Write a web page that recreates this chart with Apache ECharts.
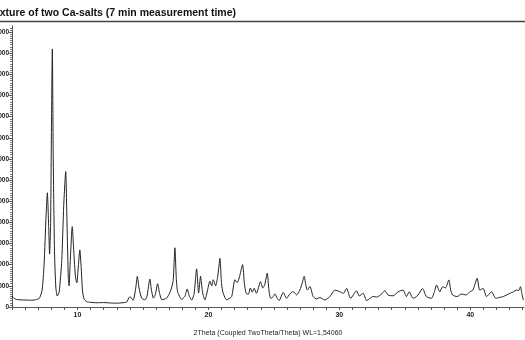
<!DOCTYPE html>
<html>
<head>
<meta charset="utf-8">
<script src="https://cdn.jsdelivr.net/npm/echarts@6/dist/echarts.min.js"></script>
<style>html,body{margin:0;padding:0;background:#fff}#c{width:525px;height:340px}</style>
</head>
<body>
<div id="c"></div>
<script>
const chartTitle = "Mixture of two Ca-salts (7 min measurement time)";
const xAxisTitle = "2Theta (Coupled TwoTheta/Theta) WL=1,54060";
const xTickValues = [5,6,7,8,9,10,11,12,13,14,15,16,17,18,19,20,21,22,23,24,25,26,27,28,29,30,31,32,33,34,35,36,37,38,39,40,41,42,43,44];
const xLabelValues = [10, 20, 30, 40];
const yTickValues = [0,1000,2000,3000,4000,5000,6000,7000,8000,9000,10000,11000,12000,13000];
const twoTheta = [5.0,5.15,5.3,5.6,6.0,6.4,6.8,7.1,7.3,7.45,7.6,7.7,7.8,7.87,7.95,8.02,8.08,8.15,8.25,8.35,8.46,8.6,8.8,8.95,9.1,9.2,9.3,9.36,9.45,9.6,9.72,9.85,9.95,10.05,10.18,10.28,10.38,10.5,10.7,11.0,11.5,12.0,12.5,13.0,13.4,13.75,14.0,14.25,14.45,14.57,14.7,14.9,15.15,15.3,15.53,15.65,15.8,15.95,16.12,16.27,16.45,16.8,17.06,17.3,17.44,17.55,17.65,17.95,18.2,18.38,18.55,18.72,18.9,19.1,19.25,19.4,19.55,19.73,19.9,20.11,20.25,20.37,20.55,20.7,20.88,21.0,21.13,21.39,21.77,22.02,22.2,22.35,22.61,22.75,22.88,23.05,23.2,23.35,23.5,23.67,23.98,24.15,24.3,24.49,24.62,24.75,24.9,25.08,25.25,25.4,25.71,25.97,26.22,26.47,26.73,26.98,27.15,27.31,27.45,27.55,27.75,28.0,28.26,28.51,28.89,29.27,29.66,30.04,30.3,30.55,30.86,31.31,31.52,31.82,32.08,32.33,32.58,32.84,33.15,33.47,33.73,34.11,34.49,34.87,35.12,35.33,35.63,35.89,36.1,36.35,36.65,37.03,37.25,37.42,37.67,37.88,38.1,38.36,38.5,38.64,39.0,39.3,39.71,39.96,40.2,40.52,40.72,40.98,41.24,41.62,41.95,42.2,42.51,43.02,43.3,43.53,43.7,43.83,43.95,44.05];
const counts = [520,420,360,340,330,320,340,420,800,2000,4300,5400,3800,2500,4000,9000,12200,7000,2500,900,520,700,2200,4800,6400,4000,1400,1000,2200,3800,2600,1400,1150,1800,2700,1900,800,380,250,220,200,210,190,180,200,230,490,320,900,1450,900,420,340,480,1320,800,420,600,1100,650,340,420,680,1200,2800,1300,720,360,500,850,500,330,600,1800,660,1450,700,340,700,1220,1000,1290,1000,1400,2300,1100,650,340,490,1290,1150,1370,2000,1100,650,600,900,700,880,650,1200,900,1050,1600,800,410,450,620,420,300,690,410,620,730,570,800,1100,1450,1000,800,970,490,380,450,330,490,800,720,640,880,410,760,520,650,300,410,500,470,570,770,560,530,720,800,490,720,410,490,650,880,490,410,700,1040,720,960,900,1280,800,570,490,610,570,720,800,1360,800,880,490,720,410,450,490,650,720,800,780,960,600,320];

const seriesData = twoTheta.map((t, i) => [t, counts[i]]);
const font = "'Liberation Sans', Arial, sans-serif";
const chart = echarts.init(document.getElementById('c'), null, {renderer: 'canvas'});
chart.setOption({
  animation: false,
  backgroundColor: '#fff',
  title: {
    text: chartTitle, left: -17, top: 3,
    textStyle: {fontFamily: font, fontSize: 10.5, fontWeight: 'bold', color: '#111'}
  },
  graphic: [{
    type: 'line', shape: {x1: 0, y1: 21.5, x2: 525, y2: 21.5},
    style: {stroke: '#444', lineWidth: 1.5}
  }],
  grid: {left: 12, right: 1, top: 25.7, bottom: 33, containLabel: false, outerBoundsMode: 'none'},
  xAxis: {
    type: 'value', min: 5, max: 44.1,
    name: xAxisTitle, nameLocation: 'middle', nameGap: 23,
    nameTextStyle: {fontFamily: font, fontSize: 7, color: '#222'},
    axisLine: {show: true, lineStyle: {color: '#555', width: 1}},
    axisTick: {show: true, customValues: xTickValues, length: 3, lineStyle: {color: '#555'}},
    axisLabel: {customValues: xLabelValues, fontFamily: font, fontSize: 7, color: '#222', margin: 5, fontWeight: 'bold'},
    splitLine: {show: false}
  },
  yAxis: {
    type: 'value', min: 0, max: 13300, interval: 1000,
    axisLine: {show: true, lineStyle: {color: '#555', width: 1}},
    axisTick: {show: true, length: 3, customValues: yTickValues, lineStyle: {color: '#555'}},
    minorTick: {show: true, splitNumber: 10, length: 2, lineStyle: {color: '#777'}},
    axisLabel: {customValues: yTickValues, fontFamily: font, fontSize: 6.5, color: '#222', margin: 3, fontWeight: 'bold', formatter: v => String(v)},
    splitLine: {show: false}
  },
  series: [{
    type: 'line', data: seriesData, showSymbol: false, symbol: 'none',
    lineStyle: {color: '#222', width: 1}, smooth: 0.2
  }]
});
</script>
</body>
</html>
